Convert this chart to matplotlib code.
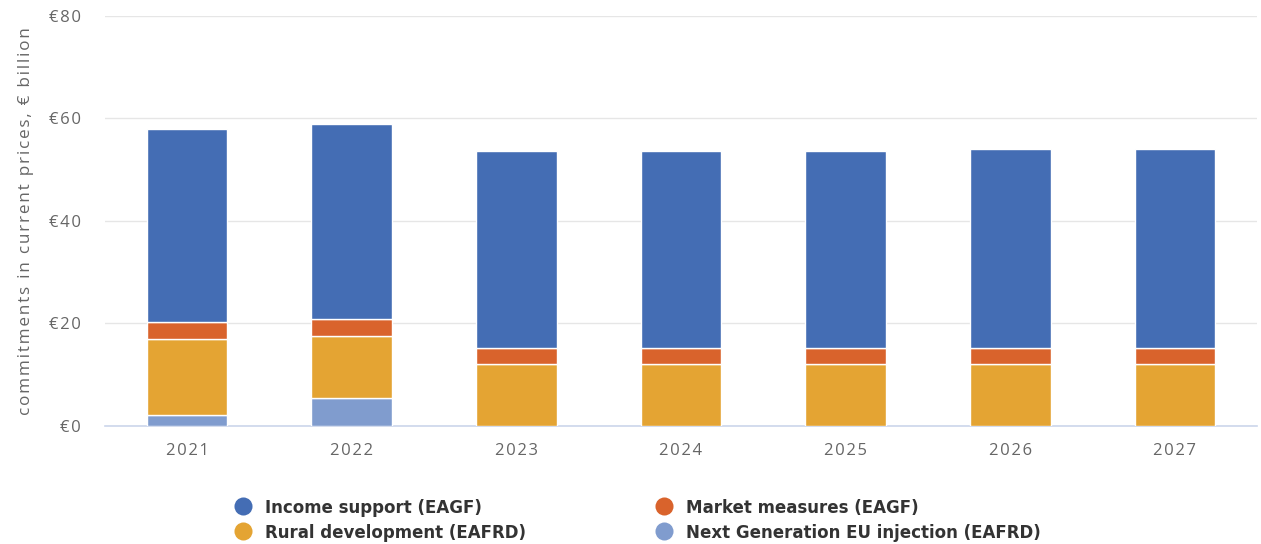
import matplotlib
matplotlib.use("Agg")
import matplotlib.pyplot as plt
from matplotlib.lines import Line2D
from matplotlib import font_manager
import numpy as np

years = ["2021", "2022", "2023", "2024", "2025", "2026", "2027"]
ngeu = [2.1, 5.5, 0, 0, 0, 0, 0]
rural = [14.9, 12.1, 12.0, 12.0, 12.0, 12.0, 12.0]
market = [3.3, 3.3, 3.2, 3.2, 3.2, 3.2, 3.2]
income = [37.6, 38.0, 38.4, 38.4, 38.4, 38.8, 38.8]
ytick_vals = [0, 20, 40, 60, 80]
ytick_labels = ["€0", "€20", "€40", "€60", "€80"]
ylabel_text = "commitments in current prices, € billion"

series_names = ["Income support (EAGF)", "Market measures (EAGF)",
                "Rural development (EAFRD)", "Next Generation EU injection (EAFRD)"]
colors = {"income": "#446db4", "market": "#d9632c", "rural": "#e4a433", "ngeu": "#809cce"}

plt.rcParams["font.family"] = ["Open Sans", "DejaVu Sans"]
HS = "\u200a"

def spaced(s):
    return HS.join(s)

fig = plt.figure(figsize=(12.61, 5.44), dpi=100)
ax = fig.add_axes([0.083, 0.217, 0.914, 0.754])

x = np.arange(len(years))
w = 0.49
b = np.zeros(len(years))
for vals, key in [(ngeu, "ngeu"), (rural, "rural"), (market, "market"), (income, "income")]:
    v = np.array(vals)
    ax.bar(x, v, w, bottom=b, color=colors[key], edgecolor="white", linewidth=1.0, zorder=3)
    b = b + v

ax.set_ylim(0, 80)
ax.set_xlim(-0.5, len(years) - 0.5)
ax.set_yticks(ytick_vals)
ax.set_yticklabels([spaced(t) for t in ytick_labels])
ax.set_xticks(x)
ax.set_xticklabels([spaced(t) for t in years])
ax.tick_params(axis="both", length=0, labelsize=12, labelcolor="#666666")
ax.tick_params(axis="y", pad=17)
ax.tick_params(axis="x", pad=12)
ax.grid(axis="y", color="#e6e6e6", linewidth=1, zorder=0)
for s in ["top", "right", "left"]:
    ax.spines[s].set_visible(False)
ax.spines["bottom"].set_color("#ccd6eb")
ax.spines["bottom"].set_linewidth(1.2)
ax.set_ylabel(spaced(ylabel_text), fontsize=12.3, color="#666666", labelpad=11)

handles = [
    Line2D([], [], marker="o", linestyle="", markersize=13, markerfacecolor=colors["income"], markeredgecolor="none"),
    Line2D([], [], marker="o", linestyle="", markersize=13, markerfacecolor=colors["rural"], markeredgecolor="none"),
    Line2D([], [], marker="o", linestyle="", markersize=13, markerfacecolor=colors["market"], markeredgecolor="none"),
    Line2D([], [], marker="o", linestyle="", markersize=13, markerfacecolor=colors["ngeu"], markeredgecolor="none"),
]
labels = [series_names[0], series_names[2], series_names[1], series_names[3]]
legprop = font_manager.FontProperties(family="DejaVu Sans", weight="bold", stretch="condensed", size=13.3)
leg = fig.legend(handles, labels, ncol=2, loc="center left", bbox_to_anchor=(0.165, 0.044),
                 frameon=False, handletextpad=0.2, columnspacing=6.45, labelspacing=0.38,
                 prop=legprop)
for t in leg.get_texts():
    t.set_color("#333333")

fig.savefig("out.png", dpi=100)
